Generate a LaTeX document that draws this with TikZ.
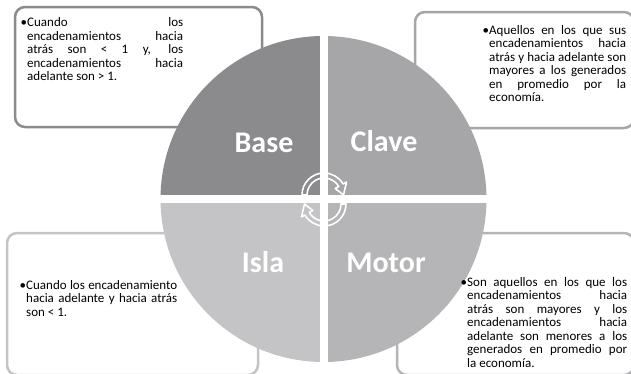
\documentclass[tikz,border=0pt]{standalone}
\usepackage{fontspec}
\setmainfont{Carlito}
\usepackage{tikz}

\definecolor{basecol}{RGB}{139,139,141}
\definecolor{clavecol}{RGB}{166,166,168}
\definecolor{motorcol}{RGB}{181,181,183}
\definecolor{islacol}{RGB}{196,196,198}

\newcommand\boxfont{\fontsize{13}{13.5}\selectfont}

\begin{document}
\begin{tikzpicture}
    [x = 1pt, y = -1pt,
     box/.style = {line width = 2.5pt, rounded corners = 10pt, fill = white},
     lbl/.style = {text = white, font = \fontsize{30}{32}\selectfont\bfseries, inner sep = 0pt},
     txt/.style = {anchor = base west, inner sep = 0pt, align = justify, font = \boxfont},
     gap/.style = {white, line width = 8pt},
     cyc/.style = {white, line width = 1.6pt, line join = round}]
    \clip (0,0) rectangle (631,373);
    % boxes behind the circle
    \draw[box, draw = basecol] (15,7) rectangle (262,127);
    \draw[box, draw = clavecol] (415,12) rectangle (634,128);
    \draw[box, draw = islacol] (7,233) rectangle (258,375);
    \draw[box, draw = motorcol] (397,233) rectangle (634,375);
    % circle in four parts
    \begin{scope}[shift = {(323.5,199)}]
      \foreach \a/\c in {180/basecol, 270/clavecol, 0/motorcol, 90/islacol}
        \fill[\c] (0,0) -- (\a:163) arc[start angle = \a, end angle = \a+90, radius = 163] -- cycle;
      \draw[gap] (-164,0) -- (164,0);
      \draw[gap] (0,-164) -- (0,164);
    \end{scope}
    \node[lbl] (base) at (264,143) {Base};
    \node[lbl] (clave) at (384,141) {Clave};
    \node[lbl] (isla) at (263,262) {Isla};
    \node[lbl] (motor) at (386,263) {Motor};
    % arrows in the middle
    \begin{scope}[shift = {(324,195)}]
      \draw[cyc] (180:22) arc[start angle = 180, end angle = 330, radius = 22] -- (330:26) -- (0:19.5)
        -- (330:13) -- (330:17) arc[start angle = 330, end angle = 180, radius = 17] -- cycle;
    \end{scope}
    \begin{scope}[shift = {(324,204)}]
      \draw[cyc] (0:22) arc[start angle = 0, end angle = 150, radius = 22] -- (150:26) -- (180:19.5)
        -- (150:13) -- (150:17) arc[start angle = 150, end angle = 0, radius = 17] -- cycle;
    \end{scope}
    % texts
    \tolerance = 10000
    \node[txt, text width = 156pt] (tbase) at (27,26.5)
      {\llap{•}Cuando los\linebreak encadenamientos hacia\linebreak atrás son < 1 y, los\linebreak
       encadenamientos hacia\linebreak adelante son > 1.};
    \node[txt, text width = 137pt] (tclave) at (489,34)
      {\llap{•}Aquellos en los que sus\linebreak encadenamientos hacia\linebreak atrás y hacia adelante son\linebreak
       mayores a los generados\linebreak en promedio por la\linebreak economía.};
    \node[txt, text width = 151pt] (tisla) at (26,289)
      {\llap{•}Cuando los encadenamiento\linebreak hacia adelante y hacia atrás\linebreak son < 1.};
    \node[txt, text width = 160pt] (tmotor) at (467,286)
      {\llap{•}Son aquellos en los que los\linebreak encadenamientos hacia\linebreak atrás son mayores y los\linebreak
       encadenamientos hacia\linebreak adelante son menores a los\linebreak generados en promedio por\linebreak la economía.};
\end{tikzpicture}
\end{document}
